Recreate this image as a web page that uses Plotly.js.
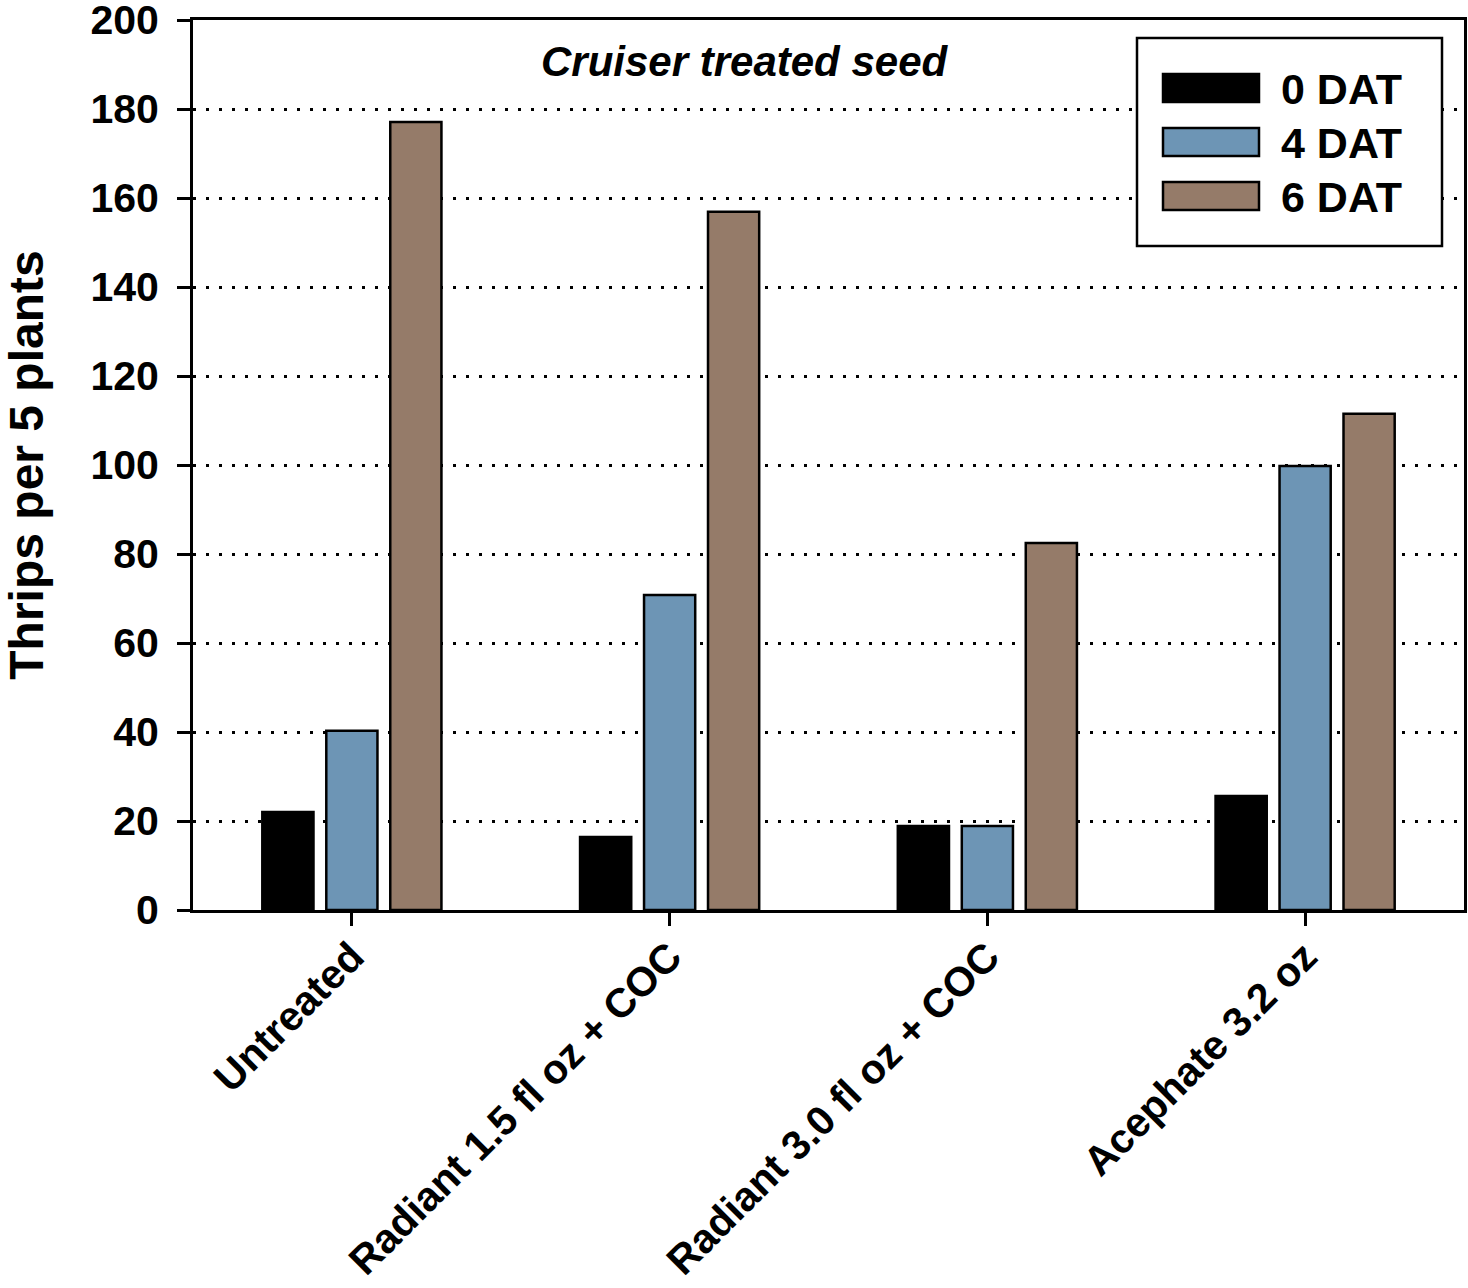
<!DOCTYPE html>
<html>
<head>
<meta charset="utf-8">
<script src="https://cdn.plot.ly/plotly-3.0.1.min.js"></script>
<style>
  html, body { margin: 0; padding: 0; background: #ffffff; }
  #chart { width: 1468px; height: 1288px; }
</style>
</head>
<body>
<div id="chart"></div>
<script>
// ---- Data ----
const categories = ["Untreated", "Radiant 1.5 fl oz + COC", "Radiant 3.0 fl oz + COC", "Acephate 3.2 oz"];
const seriesNames = ["0 DAT", "4 DAT", "6 DAT"];
const dat0 = [22.0, 16.4, 18.9, 25.6];
const dat4 = [40.3, 70.8, 18.9, 99.8];
const dat6 = [177.1, 156.9, 82.5, 111.5];
const yTickValues = [0, 20, 40, 60, 80, 100, 120, 140, 160, 180, 200];
const chartTitle = "Cruiser treated seed";
const yAxisTitle = "Thrips per 5 plants";

// ---- Styles ----
const colors = ["#000000", "#6d95b5", "#957b69"];
const FONT = "Liberation Sans, Arial, sans-serif";

const seriesValues = [dat0, dat4, dat6];
const traces = seriesValues.map((vals, i) => ({
  type: "bar",
  name: seriesNames[i],
  x: categories,
  y: vals,
  marker: { color: colors[i], line: { color: "#000000", width: 2.5 } },
  showlegend: false,
  hoverinfo: "x+y+name"
}));

// Custom legend (wide swatches like the original)
const legendShapes = [];
const legendAnnotations = [];
const legTop = [74, 128, 182];
legendShapes.push({
  type: "rect", xref: "paper", yref: "paper",
  x0: (1137 - 193) / 1271, x1: (1442 - 193) / 1271,
  y0: 1 - (246 - 20) / 890, y1: 1 - (38 - 20) / 890,
  fillcolor: "#ffffff", line: { color: "#000000", width: 2.5 }, layer: "above"
});
seriesNames.forEach((name, i) => {
  legendShapes.push({
    type: "rect", xref: "paper", yref: "paper",
    x0: (1163 - 193) / 1271, x1: (1259 - 193) / 1271,
    y0: 1 - (legTop[i] + 28 - 20) / 890, y1: 1 - (legTop[i] - 20) / 890,
    fillcolor: colors[i], line: { color: "#000000", width: 2.5 }, layer: "above"
  });
  legendAnnotations.push({
    xref: "paper", yref: "paper",
    x: (1279 - 193) / 1271, y: 1 - (legTop[i] + 15 - 20) / 890,
    xanchor: "left", yanchor: "middle", showarrow: false,
    text: "<b>" + name + "</b>",
    font: { family: FONT, size: 43, color: "#000000" }
  });
});

const layout = {
  width: 1468,
  height: 1288,
  margin: { l: 193, r: 4, t: 20, b: 378, pad: 0 },
  paper_bgcolor: "#ffffff",
  plot_bgcolor: "#ffffff",
  font: { family: FONT, color: "#000000" },
  barmode: "group",
  bargap: 0.396,
  bargroupgap: 0.2,
  showlegend: false,
  xaxis: {
    type: "category",
    categoryorder: "array",
    categoryarray: categories,
    range: [-0.5, 3.5],
    showline: true, linecolor: "#000000", linewidth: 3, mirror: true,
    ticks: "outside", ticklen: 13, tickwidth: 3, tickcolor: "#000000",
    tickangle: -45,
    ticklabelstandoff: -10,
    tickfont: { family: FONT, size: 41, color: "#000000", weight: "bold" },
    showgrid: false, zeroline: false, automargin: false
  },
  yaxis: {
    range: [0, 200],
    tickvals: yTickValues,
    ticktext: yTickValues.map(String),
    showline: true, linecolor: "#000000", linewidth: 3, mirror: true,
    ticks: "outside", ticklen: 13, tickwidth: 3, tickcolor: "#000000",
    ticklabelstandoff: 10,
    ticklabeloverflow: "allow",
    tickfont: { family: FONT, size: 41, color: "#000000", weight: "bold" },
    showgrid: true, gridcolor: "#000000", gridwidth: 3, griddash: "3px,10px",
    zeroline: false, automargin: false,
    title: { text: yAxisTitle, font: { family: FONT, size: 48, color: "#000000", weight: "bold" }, standoff: 36 }
  },
  shapes: legendShapes,
  annotations: [
    {
      xref: "paper", yref: "paper",
      x: (745 - 193) / 1271, y: 1 - (61 - 20) / 890,
      xanchor: "center", yanchor: "middle", showarrow: false,
      text: "<b><i>" + chartTitle + "</i></b>",
      font: { family: FONT, size: 42, color: "#000000" }
    }
  ].concat(legendAnnotations)
};

Plotly.newPlot("chart", traces, layout, { displayModeBar: false, staticPlot: true });
</script>
</body>
</html>
